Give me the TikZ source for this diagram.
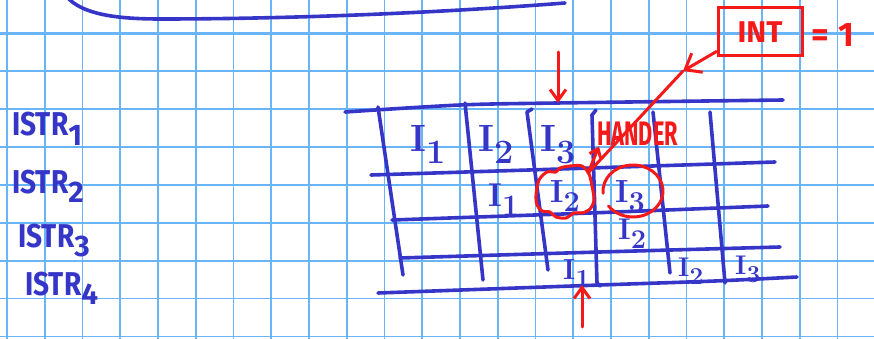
\documentclass[tikz,border=0pt]{standalone}
\usepackage{fontspec}
\usepackage{graphicx}
\usetikzlibrary{arrows.meta}
\newfontfamily\penfont{Fira Sans}
\definecolor{PenBlue}{HTML}{3535C8}
\definecolor{PenRed}{HTML}{F51A1A}
\definecolor{GridBlue}{HTML}{6AB4F8}
\newcommand{\lowsub}[1]{\raisebox{-0.3em}{\scalebox{0.9}{#1}}}
\newcommand{\Iop}[1]{I\lowsub{#1}}
\newcommand{\pensize}[1]{\fontsize{#1}{#1}\selectfont\bfseries}
\tikzset{
  gridline/.style={draw=GridBlue, line width=1.6pt},
  bluepen/.style={draw=PenBlue, line width=3.6pt, line cap=round, line join=round},
  redpen/.style={draw=PenRed, line width=3pt, line cap=round, line join=round},
  slot/.style={text=PenBlue, inner sep=0pt, anchor=base west},
  label/.style={text=PenBlue, inner sep=0pt, anchor=base west, font=\penfont\pensize{33}},
  note/.style={text=PenRed, inner sep=0pt},
  barb/.style={-{Straight Barb[length=11pt,width=16pt]}}
}

\begin{document}
\begin{tikzpicture}[x=1pt, y=-1pt]
  \useasboundingbox (0,0) rectangle (874,339);
  % squared paper
  \foreach \i in {0,...,23}
    \draw[gridline] ({7+37.75*\i},0) -- ({7+37.75*\i},339);
  \foreach \j in {0,...,8}
    \draw[gridline] (0,{33.3+37.9*\j}) -- (874,{33.3+37.9*\j});
  \draw[gridline, line width=2.6pt] (0,33.3) -- (874,33.3);

  % end of the previous sketch
  \draw[bluepen] (67,-3) .. controls (82,14) and (115,19) .. (160,19)
    .. controls (300,19) and (450,12) .. (565,3);

  % pipeline table
  \draw[bluepen] plot[smooth] coordinates {(345,112) (460,105) (557,103) (783,100)};
  \draw[bluepen] plot[smooth] coordinates {(371,175) (560,169) (775,162)};
  \draw[bluepen] plot[smooth] coordinates {(392,220) (590,213) (768,206)};
  \draw[bluepen] plot[smooth] coordinates {(400,258) (600,252) (780,247)};
  \draw[bluepen] plot[smooth] coordinates {(378,293) (600,285) (715,281) (797,277)};
  \draw[bluepen] (378,107) -- (403,275);
  \draw[bluepen] (465,103) -- (483,280);
  \draw[bluepen] (532,109) -- (527,112) -- (548,270);
  \draw[bluepen] (596,110) -- (592,115) -- (597,283) -- (600,286);
  \draw[bluepen] (653,112) -- (670,273);
  \draw[bluepen] (710,112) -- (725,283);

  % stage labels
  \node[label] (istr1) at (12,136) {\scalebox{0.85}[1]{ISTR}\lowsub{1}};
  \node[label] (istr2) at (12,193) {\scalebox{0.85}[1]{ISTR}\lowsub{2}};
  \node[label] (istr3) at (18,247) {\scalebox{0.85}[1]{ISTR}\lowsub{3}};
  \node[label] (istr4) at (25,295) {\scalebox{0.85}[1]{ISTR}\lowsub{4}};

  % instructions in the slots
  \node[slot, font=\pensize{38}] (r1a) at (410,152) {\Iop{1}};
  \node[slot, font=\pensize{38}] (r1b) at (478,152) {\Iop{2}};
  \node[slot, font=\pensize{38}] (r1c) at (540,152) {\Iop{3}};
  \node[slot, font=\pensize{33}] (r2a) at (488,206) {\Iop{1}};
  \node[slot, font=\pensize{32}] (r2b) at (550,202) {\Iop{2}};
  \node[slot, font=\pensize{32}] (r2c) at (615,202) {\Iop{3}};
  \node[slot, font=\pensize{30}] (r3b) at (618,239) {\Iop{2}};
  \node[slot, font=\pensize{29}] (r4a) at (563,279) {\Iop{1}};
  \node[slot, font=\pensize{27}] (r4b) at (678,276) {\Iop{2}};
  \node[slot, font=\pensize{27}] (r4c) at (735,274) {\Iop{3}};

  % interrupt notes
  \draw[redpen] plot[smooth cycle] coordinates {(536,195) (539,180) (547,172) (556,172)
    (560,168) (570,166) (582,166) (589,174) (592,186) (594,200) (590,209) (582,213)
    (574,213) (566,218) (556,217) (550,212) (542,211) (537,205)};
  \draw[redpen] (633,191) ++(175:30 and 26) arc[start angle=175, end angle=505, x radius=30, y radius=26];
  \node[note, anchor=base west, font=\penfont\pensize{34}] (hand) at (597,146) {\scalebox{0.64}[1]{HANDER}};
  \node[note, draw=PenRed, line width=3pt, minimum width=84pt, minimum height=48pt,
    font=\penfont\pensize{30}] (int) at (760,32) {INT};
  \node[note, anchor=west, font=\penfont\pensize{34}] (val) at (811,35) {=\hspace{10pt}1};

  \coordinate (inttip) at (683,71);
  \coordinate (cloudtop) at (588,173);
  \draw[redpen, -{Straight Barb[length=14pt,width=22pt]}] ([yshift=6pt]int.south west) -- (inttip);
  \draw[redpen] (inttip) -- (cloudtop);
  \draw[redpen, -{Straight Barb[length=8pt,width=12pt]}] (cloudtop) -- ([xshift=2pt]hand.south west);

  \coordinate (fetchtop) at (558,52);
  \coordinate (fetchend) at (558,103);
  \draw[redpen, barb] (fetchtop) -- (fetchend);
  \coordinate (wbtail) at (582,327);
  \coordinate (wbend) at (582,285);
  \draw[redpen, barb] (wbtail) -- (wbend);
\end{tikzpicture}
\end{document}
